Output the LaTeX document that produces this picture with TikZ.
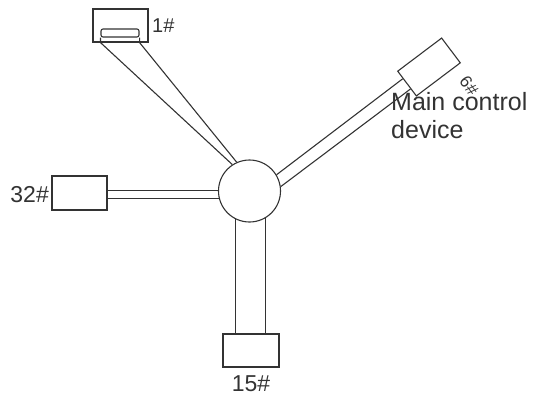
\documentclass[tikz,border=0pt]{standalone}
\usepackage{fontspec}
\setmainfont{Liberation Sans}
\usetikzlibrary{calc}
\definecolor{ink}{HTML}{333333}
\definecolor{txt}{HTML}{333333}
\begin{document}
\begin{tikzpicture}[x=1pt,y=-1pt,
  box/.style={draw=ink, line width=1.1pt, rectangle, inner sep=0pt},
  wire/.style={draw=ink, line width=1.1pt},
  lbl/.style={text=txt, inner sep=0pt, font=\fontsize{23}{28}\selectfont}]
\useasboundingbox (0,0) rectangle (536,392);
% hub
\node[circle, draw=ink, line width=1.1pt, minimum size=62pt, inner sep=0pt] (hub) at (249.5,191) {};
% boxes
\node[box, minimum width=55pt, minimum height=33pt] (b1) at (120.5,25.5) {};
\node[draw=ink, line width=1.1pt, rounded corners=2pt, minimum width=38pt, minimum height=8pt, inner sep=0pt] (s1) at (120,33) {};
\node[box, minimum width=55pt, minimum height=34pt] (b32) at (79.5,193) {};
\node[box, minimum width=56pt, minimum height=33pt] (b15) at (251,350.5) {};
\node[box, minimum width=55pt, minimum height=31pt, rotate=37] (b6) at (429,67) {};
% strip to 1#
\draw[wire] (s1.south west) -- (s1.south west |- b1.south) -- (hub.123);
\draw[wire] (s1.south east) -- (s1.south east |- b1.south) -- (hub.114);
% strip to 32#
\draw[wire] (hub.179) -- (hub.179 -| b32.east);
\draw[wire] (hub.194) -- (hub.194 -| b32.east);
% strip to 15#
\draw[wire] (hub.244) -- (hub.244 |- b15.north);
\draw[wire] (hub.300) -- (hub.300 |- b15.north);
% strip to 6#
\coordinate (p6a) at ($(b6.north west)!0.3!(b6.south west)$);
\coordinate (p6b) at ($(b6.north west)!0.7!(b6.south west)$);
\draw[wire] (p6a) -- (hub.31);
\draw[wire] (p6b) -- (hub.8);
% labels
\node[lbl, anchor=base west, font=\fontsize{20}{24}\selectfont] (l1) at (152,32) {1\#};
\node[lbl, anchor=base east] (l32) at (49,202) {32\#};
\node[lbl, anchor=base] (l15) at (251,391.5) {15\#};
\node[lbl, rotate=-53, font=\fontsize{17}{20}\selectfont] (l6) at (469,86) {6\#};
\node[lbl, anchor=base west, font=\fontsize{25}{28}\selectfont] (lmain) at (391,110) {Main control};
\node[lbl, anchor=base west, font=\fontsize{25}{28}\selectfont] (ldev) at (391,138) {device};
\end{tikzpicture}
\end{document}
